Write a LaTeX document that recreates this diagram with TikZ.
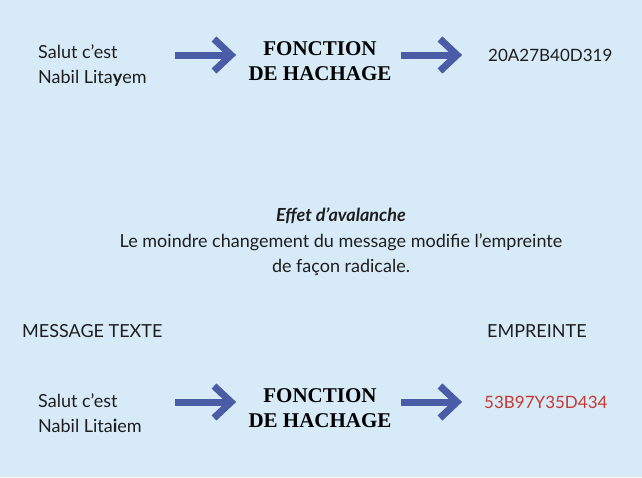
\documentclass[tikz,border=0pt]{standalone}
\usepackage{fontspec}
\setmainfont{Lato}
\newfontfamily\hashfont{Liberation Serif}
\usetikzlibrary{calc}
\definecolor{bgblue}{RGB}{214,234,248}
\definecolor{arrowblue}{RGB}{74,92,166}
\definecolor{hashred}{RGB}{196,58,50}
\definecolor{txt}{RGB}{30,30,30}
\tikzset{
  body/.style={font=\fontsize{18}{25}\selectfont, text=txt, inner sep=0pt},
  msgtext/.style={body, align=left, anchor=west},
  funcbox/.style={font=\hashfont\bfseries\fontsize{21}{25}\selectfont, align=center, inner sep=0pt, text=black},
  hashtext/.style={font=\fontsize{17}{24}\selectfont, text=txt, inner sep=0pt, anchor=west},
  arrowbar/.style={draw=arrowblue, line width=7pt},
  chevron/.style={draw=arrowblue, line width=7pt, line join=miter},
}
\begin{document}
\begin{tikzpicture}[x=1pt,y=-1pt]
\fill[bgblue] (0,0) rectangle (642,477);
\useasboundingbox (0,0) rectangle (642,477);
% row 1
\node[msgtext] (msg1) at (38,66) {Salut c'est\\Nabil Lita\textbf{y}em};
\node[funcbox] (func1) at (320,61) {FONCTION\\DE HACHAGE};
\node[hashtext] (hash1) at (488,55) {20A27B40D319};
\coordinate (a1s) at (175,55);
\coordinate (a1e) at (231,55);
\coordinate (a2s) at (401,55);
\coordinate (a2e) at (457,55);
\draw[arrowbar] (a1s) -- (a1e);
\draw[chevron] ($(a1e)+(-17,-16)$) -- (a1e) -- ($(a1e)+(-17,16)$);
\draw[arrowbar] (a2s) -- (a2e);
\draw[chevron] ($(a2e)+(-17,-16)$) -- (a2e) -- ($(a2e)+(-17,16)$);
% middle
\node[body, font=\bfseries\itshape\fontsize{18}{25}\selectfont] (effet) at (341,216) {Effet d'avalanche};
\node[body, align=center] (desc) at (341,255) {Le moindre changement du message modifie l'empreinte\\de façon radicale.};
\node[body, anchor=west] (lblmsg) at (22,331) {MESSAGE TEXTE};
\node[body, anchor=west] (lblemp) at (487,331) {EMPREINTE};
% row 2
\node[msgtext] (msg2) at (38,413) {Salut c'est\\Nabil Lita\textbf{i}em};
\node[funcbox] (func2) at (320,408) {FONCTION\\DE HACHAGE};
\node[hashtext, text=hashred] (hash2) at (484,402) {53B97Y35D434};
\coordinate (b1s) at (175,402);
\coordinate (b1e) at (231,402);
\coordinate (b2s) at (401,402);
\coordinate (b2e) at (457,402);
\draw[arrowbar] (b1s) -- (b1e);
\draw[chevron] ($(b1e)+(-17,-16)$) -- (b1e) -- ($(b1e)+(-17,16)$);
\draw[arrowbar] (b2s) -- (b2e);
\draw[chevron] ($(b2e)+(-17,-16)$) -- (b2e) -- ($(b2e)+(-17,16)$);
\end{tikzpicture}
\end{document}
